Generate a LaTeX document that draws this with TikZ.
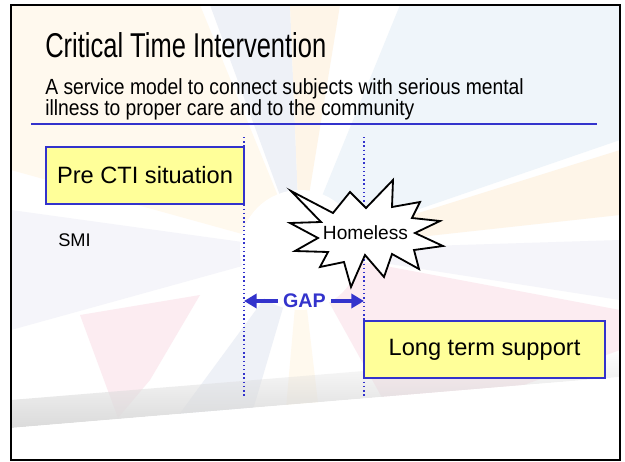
\documentclass[tikz,border=0pt]{standalone}
\usepackage{fontspec}
\setmainfont{Liberation Sans}
\newfontfamily\narrowfont[FakeStretch=0.74]{Liberation Sans}
\newfontfamily\subfont[FakeStretch=0.88]{Liberation Sans}
\usetikzlibrary{arrows.meta}
\usetikzlibrary{fadings}
\definecolor{sblue}{RGB}{51,51,204}
\definecolor{syellow}{RGB}{255,255,153}
\definecolor{bgcream}{RGB}{255,249,238}
\definecolor{bgpeach}{RGB}{254,245,232}
\definecolor{bgblue}{RGB}{238,241,247}
\definecolor{bglight}{RGB}{239,245,250}
\definecolor{bglav}{RGB}{245,245,250}
\definecolor{bgpink}{RGB}{252,236,241}
\tikzset{box/.style = {draw=sblue, line width=1.4pt, fill=syellow, inner sep=0,
                       minimum height=1.425cm, font=\fontsize{16.8}{18}\selectfont}}
\tikzset{divider/.style = {sblue, line width=1pt, dotted}}
\tikzset{gaparrow/.style = {sblue, line width=2.8pt, -{Triangle[length=9pt, width=10pt]}}}
\tikzset{burst/.style = {fill=white, draw=black, line width=1.3pt, line join=miter}}

\begin{document}
\begin{tikzpicture}[x=0.025cm, y=-0.025cm]
      \useasboundingbox (0,0) rectangle (625,461);
      \fill [white] (0,0) rectangle (625,461);
      \begin{scope}
        \clip (11,5) rectangle (620,460);
        \fill [bgcream] (300,250) -- (11,170) -- (11,5) -- (200,5) -- cycle;
        \fill [bgblue] (300,250) -- (210,5) -- (290,5) -- cycle;
        \fill [bgpeach] (300,250) -- (290,5) -- (340,5) -- cycle;
        \fill [bglight] (300,250) -- (400,5) -- (620,5) -- (620,140) -- cycle;
        \fill [bgpeach] (300,250) -- (620,150) -- (620,215) -- cycle;
        \fill [bglav] (300,250) -- (620,240) -- (620,300) -- cycle;
        \fill [bgpink] (300,250) -- (620,310) -- (620,350) -- (400,430) -- cycle;
        \fill [bglav] (300,250) -- (11,210) -- (11,330) -- cycle;
        \fill [bgpink] (80,315) -- (200,295) -- (150,380) -- (118,418) -- cycle;
        \fill [bgblue] (300,250) -- (175,420) -- (250,420) -- cycle;
        \fill [bgcream] (300,250) -- (285,420) -- (320,420) -- cycle;
        \fill [white] (300,250) circle [radius=60];
        \fill [gray!28, path fading=north] (11,400) -- (620,350) -- (620,377) -- (11,428) -- cycle;
        \fill [white] (11,428) -- (620,377) -- (620,461) -- (11,461) -- cycle;
      \end{scope}
      \draw [line width=1.6pt] (11,5) rectangle (620,460);
      \node [anchor=base west, inner sep=0, font=\narrowfont\fontsize{24.5}{26}\selectfont] (title) at (45,57) {Critical Time Intervention};
      \node [anchor=base west, inner sep=0, font=\subfont\fontsize{15.6}{17}\selectfont] (sub1) at (45,94) {A service model to connect subjects with serious mental};
      \node [anchor=base west, inner sep=0, font=\subfont\fontsize{15.6}{17}\selectfont] (sub2) at (45,115) {illness to proper care and to the community};
      \draw [sblue, line width=1.5pt] (31,124) -- (597,124);
      \draw [divider] (244,137) -- (244,397);
      \draw [divider] (364,137) -- (364,397);
      \node [box, minimum width=4.95cm] (pre) at (145,175.5) {Pre CTI situation};
      \node [anchor=base west, inner sep=0, font=\fontsize{13}{14}\selectfont] (smi) at (58,246) {SMI};
      \draw [burst] (291,191) -- (333,213) -- (350,192) -- (366,208) -- (393,180) -- (392,207)
                 -- (420,202) -- (412,218) -- (440,221) -- (415,233) -- (443,246) -- (414,250)
                 -- (419,269) -- (392,254) -- (384,277) -- (365,255) -- (351,287) -- (344,262)
                 -- (320,267) -- (328,252) -- (295,251) -- (318,238) -- (290,223) -- (321,222) -- cycle;
      \node [anchor=base, inner sep=0, font=\fontsize{13.6}{15}\selectfont] (homeless) at (365.5,239) {Homeless};
      \node [sblue, inner sep=3.5pt, font=\fontsize{14}{15}\selectfont\bfseries] (gap) at (304.5,301) {GAP};
      \coordinate (gapl) at (244,301);
      \coordinate (gapr) at (364,301);
      \draw [gaparrow] (gap.west) -- (gapl);
      \draw [gaparrow] (gap.east) -- (gapr);
      \node [box, minimum width=6.025cm] (long) at (484.5,349.5) {Long term support};
    \end{tikzpicture}
\end{document}
